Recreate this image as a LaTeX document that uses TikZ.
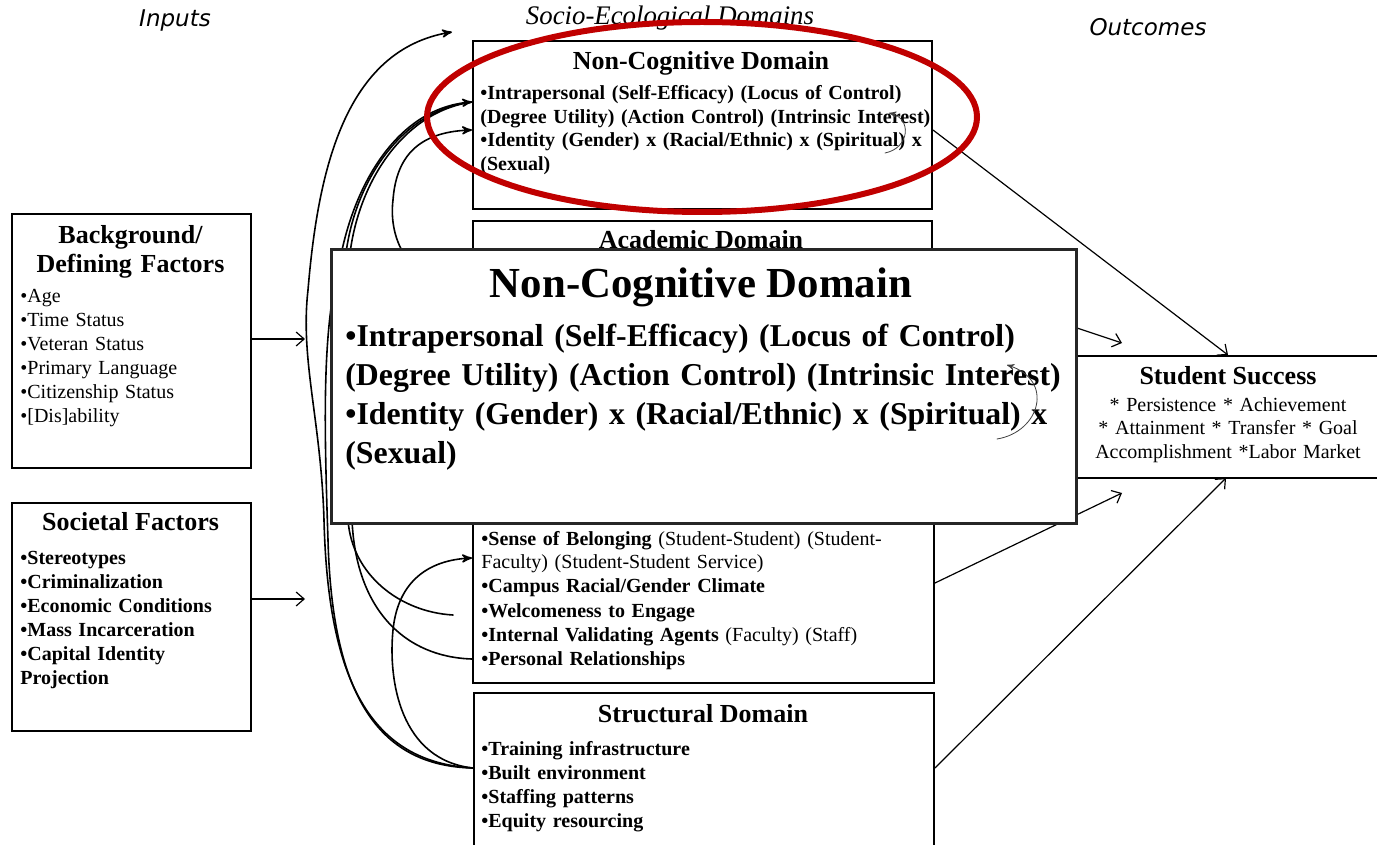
\documentclass[tikz,border=0pt]{standalone}
\usepackage{fontspec}
\setmainfont{Liberation Serif}
\newfontfamily\headfont{DejaVu Sans}
\usetikzlibrary{shapes}
\usetikzlibrary{arrows,arrows.meta}
\definecolor{ringred}{RGB}{192,0,0}
\tikzset{
	dom_box/.style = {draw=black, line width=1pt, fill=white, anchor=north west,
		inner sep=0pt},% boite de domaine
	zoom_box/.style = {draw=black!85, line width=1.6pt, fill=white, anchor=north west,
		inner sep=0pt},% loupe
	dom_title/.style = {anchor=base, align=center, inner sep=0pt,
		font=\fontsize{13}{14.5}\selectfont\bfseries},% titre
	dom_list/.style = {anchor=base west, align=left, inner sep=0pt,
		font=\fontsize{10}{12}\selectfont},% liste
	head_lbl/.style = {inner sep=0pt, font=\headfont\itshape\fontsize{11.5}{13}\selectfont},
	socio_lbl/.style = {inner sep=0pt, font=\fontsize{13.4}{15}\selectfont\itshape},
	arr/.style = {->, line width=0.6pt},
	curve/.style = {line width=0.8pt},
	curve_in/.style = {curve, -stealth'},
	curl/.style = {-stealth', line width=0.4pt, black!75},
	ring_r/.style = {ellipse, draw=ringred, line width=3pt, inner sep=0pt}% anneau rouge
}
\begin{document}
\begin{tikzpicture}[x=0.5pt, y=-0.5pt, >={Straight Barb[length=4pt,width=7pt]}, line cap=round]
\useasboundingbox (0,0) rectangle (1377,845);
\clip (0,0) rectangle (1377,845);

% en-tetes
\node[head_lbl] (inputs) at (175,21) {Inputs};
\node[socio_lbl] (socio) at (670,18) {Socio-Ecological Domains};
\node[head_lbl] (outcomes) at (1148,27) {Outcomes};

% entrees
\node[dom_box, minimum width=119.5pt, minimum height=127pt] (bg) at (11,213) {};
\node[dom_title, text width=115pt] (bg_t) at (130.5,244) {Background/\\Defining Factors};
\node[dom_list, text width=112pt] (bg_l) at (20,303)
	{•Age\\•Time Status\\•Veteran Status\\•Primary Language\\•Citizenship Status\\•[Dis]ability};

\node[dom_box, minimum width=119.5pt, minimum height=114pt] (soc) at (11,502) {};
\node[dom_title] (soc_t) at (130.5,530) {Societal Factors};
\node[dom_list, text width=112pt, font=\fontsize{10}{12}\selectfont\bfseries] (soc_l) at (20,564)
	{•Stereotypes\\•Criminalization\\•Economic Conditions\\•Mass Incarceration\\•Capital Identity\\Projection};

% domaines
\node[dom_box, minimum width=229.5pt, minimum height=84pt] (nc) at (472,40) {};
\node[dom_title] (nc_t) at (701,70) {Non-Cognitive Domain};
\node[dom_list, text width=260pt, font=\fontsize{10}{11.7}\selectfont\bfseries] (nc_l) at (480,100)
	{•Intrapersonal (Self-Efficacy) (Locus of Control)\\(Degree Utility) (Action Control) (Intrinsic Interest)\\•Identity (Gender) x (Racial/Ethnic) x (Spiritual) x\\(Sexual)};

\node[dom_box, minimum width=229.5pt, minimum height=60pt] (acad) at (472,220) {};
\node[dom_title] (acad_t) at (701,249) {Academic Domain};

\node[dom_box, minimum width=230.5pt, minimum height=166pt] (social) at (472,350) {};
\node[dom_list, text width=226pt] (social_l) at (481,545)
	{\textbf{•Sense of Belonging} (Student-Student) (Student-\\Faculty) (Student-Student Service)\\\textbf{•Campus Racial/Gender Climate}\\\textbf{•Welcomeness to Engage}\\\textbf{•Internal Validating Agents} (Faculty) (Staff)\\\textbf{•Personal Relationships}};

\node[dom_box, minimum width=230pt, minimum height=100pt] (struct) at (473,692) {};
\node[dom_title] (struct_t) at (703,722) {Structural Domain};
\node[dom_list, text width=226pt, font=\fontsize{10}{12}\selectfont\bfseries] (struct_l) at (481,755)
	{•Training infrastructure\\•Built environment\\•Staffing patterns\\•Equity resourcing};

% resultat
\node[dom_box, minimum width=170pt, minimum height=61pt] (succ) at (1072,355) {};
\node[dom_title] (succ_t) at (1228,385) {Student Success};
\node[dom_list, anchor=base, align=center, text width=160pt] (succ_l) at (1228,411)
	{* Persistence * Achievement\\{}* Attainment * Transfer * Goal\\Accomplishment *Labor Market};

% points d'attache
\coordinate (bg_in) at (305,339);
\coordinate (soc_in) at (305,599);
\coordinate (st_in) at (struct.west |- 0,768);
\coordinate (top_in) at (452,32);
\coordinate (nc_a) at (nc.west |- 0,102);
\coordinate (nc_b) at (nc.west |- 0,130);
\coordinate (ac_out) at (acad.west |- 0,290);
\coordinate (we_end) at (453,615);
\coordinate (pr_out) at (social.west |- 0,659);
\coordinate (sb_in) at (social.west |- 0,558);
\coordinate (succ_top) at (1228,355);
\coordinate (succ_a) at (1122,343);
\coordinate (succ_b) at (1122,493);
\coordinate (succ_bot) at (1226,478);

\draw[arr] (bg.east |- bg_in) -- (bg_in);
\draw[arr] (soc.east |- soc_in) -- (soc_in);

% courbes
\draw[curve_in] (st_in) .. controls (370,762) and (328,680) .. (324,520)
	.. controls (321,420) and (300,360) .. (308,290)
	.. controls (318,170) and (345,50) .. (top_in);
\draw[curve_in] (st_in) .. controls (375,766) and (332,690) .. (328,540)
	.. controls (324,420) and (322,330) .. (340,260)
	.. controls (355,180) and (400,108) .. (nc_a);
\draw[curve] (we_end) .. controls (400,612) and (352,575) .. (348,520)
	.. controls (344,440) and (342,320) .. (345,262)
	.. controls (352,185) and (400,110) .. (nc_a);
\draw[curve] (pr_out) .. controls (405,657) and (356,610) .. (352,520)
	.. controls (349,440) and (346,320) .. (349,262)
	.. controls (356,185) and (402,112) .. (nc_a);
\draw[curve_in] (ac_out) .. controls (410,288) and (388,240) .. (393,200)
	.. controls (396,160) and (415,132) .. (nc_b);
\draw[curve_in] (st_in) .. controls (400,760) and (388,680) .. (393,630)
	.. controls (398,580) and (430,560) .. (sb_in);

\draw[arr] (nc.east |- 0,130) -- (succ_top);
\draw[arr] (acad.east |- 0,280) -- (succ_a);
\draw[arr] (social.east |- 0,583) -- (succ_b);
\draw[arr] (struct.east |- 0,768) -- (succ_bot);

\coordinate (cl_a) at (885,153);
\coordinate (cl_b) at (889,113);
\draw[curl] (cl_a) .. controls (910,148) and (912,118) .. (cl_b);

% loupe
\node[zoom_box, minimum width=372.5pt, minimum height=137pt] (zoom) at (330,248) {};
\node[dom_title, font=\fontsize{21.4}{23}\selectfont\bfseries] (zoom_t) at (701,298) {Non-Cognitive Domain};
\node[dom_list, text width=400pt, font=\fontsize{15.9}{19.5}\selectfont\bfseries] (zoom_l) at (345,347)
	{•Intrapersonal (Self-Efficacy) (Locus of Control)\\(Degree Utility) (Action Control) (Intrinsic Interest)\\•Identity (Gender) x (Racial/Ethnic) x (Spiritual) x\\(Sexual)};
\coordinate (zc_a) at (997,439);
\coordinate (zc_b) at (1007,365);
\draw[curl] (zc_a) .. controls (1040,432) and (1055,380) .. (zc_b);

% anneau
\node[ring_r, minimum width=275pt, minimum height=95pt] (ring) at (702,117) {};
\end{tikzpicture}
\end{document}
